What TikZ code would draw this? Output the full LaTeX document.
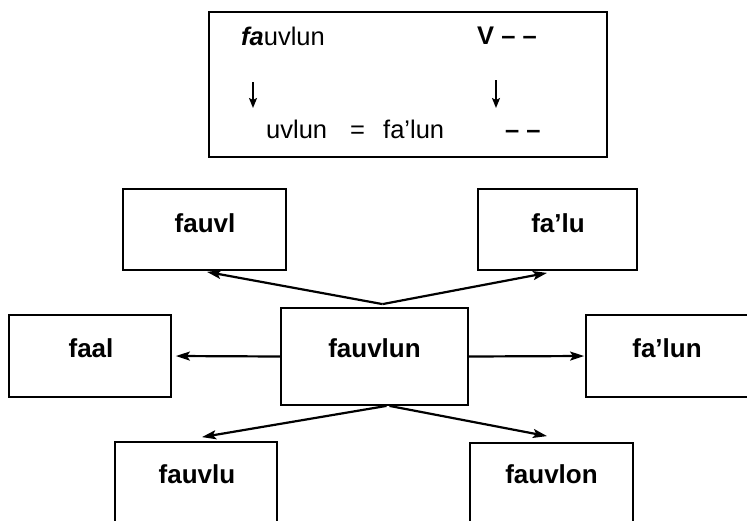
\documentclass[tikz,border=0pt]{standalone}
\usepackage{fontspec}
\setmainfont{Liberation Sans}
\usetikzlibrary{arrows.meta}
\tikzset{
  box/.style={draw, line width=1.8pt, inner sep=0pt},
  lab/.style={font=\fontsize{26}{30}\selectfont\bfseries, anchor=base, inner sep=0pt},
  toptxt/.style={font=\fontsize{25.5}{30}\selectfont, anchor=base west, inner sep=0pt},
  arr/.style={line width=2.2pt, -{Stealth[length=14pt,width=9pt,inset=3pt]}},
  sarr/.style={line width=1.8pt, -{Stealth[length=10pt,width=8pt,inset=2pt]}}
}
\begin{document}
\begin{tikzpicture}[x=1pt,y=-1pt]
\useasboundingbox (0,0) rectangle (747,520);
\clip (0,0) rectangle (747,520);
% top box
\node[box, minimum width=398pt, minimum height=145pt] (top) at (408,84.5) {};
\node[toptxt] (t1) at (241,45) {\textbf{\textit{fa}}uvlun};
\node[toptxt] (t2) at (477,44) {\textbf{V – –}};
\coordinate (a1s) at (253,82);
\coordinate (a1e) at (253,108);
\coordinate (a2s) at (496,80);
\coordinate (a2e) at (496,108);
\draw[sarr] (a1s) -- (a1e);
\draw[sarr] (a2s) -- (a2e);
\node[toptxt] (t3) at (266,138) {uvlun};
\node[toptxt] (t4) at (350,138) {=};
\node[toptxt] (t5) at (383,138) {fa'lun};
\node[toptxt] (t6) at (505,138) {\textbf{– –}};
% boxes
\node[box, minimum width=163pt, minimum height=81pt] (fauvl) at (204.5,229.5) {};
\node[box, minimum width=159pt, minimum height=81pt] (falu) at (557.5,229.5) {};
\node[box, minimum width=162pt, minimum height=82pt] (faal) at (90,356) {};
\node[box, minimum width=187pt, minimum height=97pt] (c) at (374.5,356.5) {};
\node[box, minimum width=174pt, minimum height=82pt] (falun) at (673,356) {};
\node[box, minimum width=162pt, minimum height=98pt] (fauvlu) at (196,491) {};
\node[box, minimum width=163pt, minimum height=97pt] (fauvlon) at (551.5,491.5) {};
% labels
\node[lab] (l1) at (205,232) {fauvl};
\node[lab] (l2) at (558,232) {fa'lu};
\node[lab] (l3) at (91,357) {faal};
\node[lab] (l4) at (374.5,357) {fauvlun};
\node[lab] (l5) at (667,357) {fa'lun};
\node[lab] (l6) at (197,483) {fauvlu};
\node[lab] (l7) at (551.5,483) {fauvlon};
% connectors
\draw[arr] ([xshift=8pt,yshift=3pt]c.north) -- ([xshift=2.5pt,yshift=-1pt]fauvl.south);
\draw[arr] ([xshift=8pt,yshift=3pt]c.north) -- ([xshift=-10.5pt,yshift=-2pt]falu.south);
\draw[arr] (c.west) -- ([xshift=4pt]faal.east);
\draw[arr] (c.east) -- ([xshift=-1pt]falun.west);
\draw[arr] ([xshift=12pt]c.south) -- ([xshift=6pt,yshift=4pt]fauvlu.north);
\draw[arr] ([xshift=15pt]c.south) -- ([xshift=-4.5pt,yshift=6pt]fauvlon.north);
\end{tikzpicture}
\end{document}
